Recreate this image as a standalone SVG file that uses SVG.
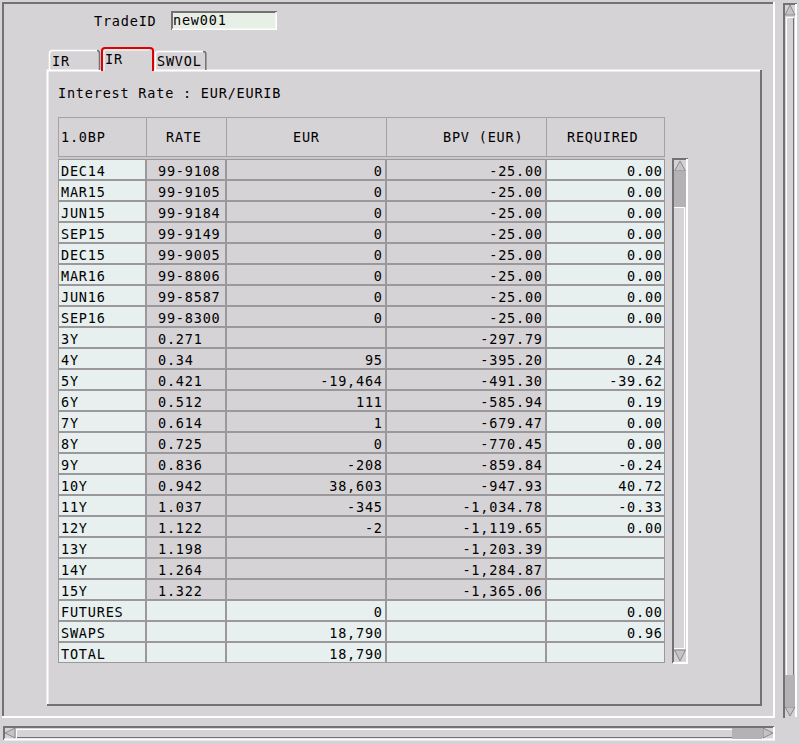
<svg xmlns="http://www.w3.org/2000/svg" width="800" height="744" viewBox="0 0 800 744">
<style>
.t{font-family:"DejaVu Sans Mono","Liberation Mono",monospace;font-size:13.5px;letter-spacing:0.8px;fill:#000}
.r{text-anchor:end}
.dk{stroke:#737173;fill:none}
.wh{stroke:#ffffff;fill:none}
.lt{fill:#e7efef}
.gy{fill:#d6d3d6}
.arr{fill:#c6c3c6;stroke:#7b797b;stroke-width:0.8}
.thumb{fill:#b5b2b5}
.hd{fill:#d6d3d6;stroke:#a5a2a5;stroke-width:1}
</style>
<rect x="0" y="0" width="800" height="744" fill="#d6d3d6"/>

<g id="outer-frame">
<path class="dk" stroke-width="2" d="M3,717 V3 H774"/>
<path class="wh" stroke-width="2" d="M774,2 V718 M2,717 H775"/>
</g>

<g id="right-scrollbar">
<rect x="783" y="3" width="14" height="715" fill="#d6d3d6"/>
<path class="dk" stroke-width="2" d="M784,718 V4 H797"/>
<path class="wh" stroke-width="2" d="M796,4 V717"/>
<path class="wh" stroke-width="1" d="M786.5,675 V17.5 H794"/>
<path class="dk" stroke-width="1" d="M793.5,18 V675"/>
<polygon class="arr" points="790,5 785,15 795,15"/>
<rect class="thumb" x="785" y="675" width="10" height="31"/>
<polygon class="arr" points="785,707 795,707 790,716"/>
</g>

<g id="bottom-scrollbar">
<rect x="3" y="726" width="771" height="14" fill="#d6d3d6"/>
<path class="dk" stroke-width="2" d="M4,740 V727 H774"/>
<path class="wh" stroke-width="2" d="M4,739.5 H774 V727"/>
<path class="wh" stroke-width="1" d="M16.5,738 V729.5 H732"/>
<path class="dk" stroke-width="1" d="M17,737.5 H732"/>
<polygon class="arr" points="5,733 15,728 15,738"/>
<rect class="thumb" x="732" y="728" width="30" height="11"/>
<polygon class="arr" points="763,728 763,738 773,733"/>
</g>

<g id="tradeid">
<text class="t" x="94" y="26">TradeID</text>
<rect x="171" y="11" width="106" height="19" fill="#e7efe7"/>
<path class="dk" stroke-width="2" d="M172,30 V12 H277"/>
<path class="wh" stroke-width="1.5" d="M172,29.2 H276.2 V12"/>
<text class="t" x="173" y="25">new001</text>
</g>

<g id="panel">
<path class="wh" stroke-width="2" d="M47.5,705 V70.5 H101 M154,70.5 H761"/>
<path class="dk" stroke-width="2" d="M761,70 V705 H47"/>
</g>

<g id="tab-ir-1">
<path class="wh" stroke-width="1.5" d="M49.5,70 V53.5 Q49.5,50.5 52.5,50.5 H97"/>
<path class="dk" stroke-width="1.5" d="M97,50.5 Q99.5,50.5 99.5,53.5 V70"/>
<text class="t" x="52" y="66">IR</text>
</g>
<g id="tab-ir-2">
<path fill="none" stroke="#e00000" stroke-width="2" d="M102,71 V50.5 Q102,48 105,48 H150 Q153,48 153,50.5 V71"/>
<path class="wh" stroke-width="1" d="M104,71 V51 Q104,50 106,50 H149"/>
<text class="t" x="105" y="64">IR</text>
</g>
<g id="tab-swvol">
<path class="wh" stroke-width="1.5" d="M155.5,70 V54 Q155.5,51.5 158.5,51.5 H203"/>
<path class="dk" stroke-width="1.5" d="M203,51.5 Q205.8,51.5 205.8,54 V70"/>
<text class="t" x="157" y="66">SWVOL</text>
</g>

<text id="title" class="t" x="58" y="98">Interest Rate : EUR/EURIB</text>

<g id="table-header">
<rect class="hd" x="58.5" y="117.5" width="88" height="39"/>
<rect class="hd" x="146.5" y="117.5" width="80" height="39"/>
<rect class="hd" x="226.5" y="117.5" width="160" height="39"/>
<rect class="hd" x="386.5" y="117.5" width="160" height="39"/>
<rect class="hd" x="546.5" y="117.5" width="118" height="39"/>
<line x1="58" y1="158" x2="665" y2="158" stroke="#bdbabd" stroke-width="1"/>
<text class="t" x="61" y="142">1.0BP</text>
<text class="t" x="166" y="142">RATE</text>
<text class="t" x="293" y="142">EUR</text>
<text class="t" x="443" y="142">BPV (EUR)</text>
<text class="t" x="567" y="142">REQUIRED</text>
</g>

<g id="table-cells">
<rect x="58" y="159" width="607" height="504" fill="#9a989a"/>
<rect class="lt" x="59" y="160" width="86" height="502"/>
<rect class="gy" x="147" y="160" width="78" height="439"/>
<rect class="gy" x="227" y="160" width="158" height="439"/>
<rect class="gy" x="387" y="160" width="158" height="439"/>
<rect class="lt" x="147" y="601" width="78" height="61"/>
<rect class="lt" x="227" y="601" width="158" height="61"/>
<rect class="lt" x="387" y="601" width="158" height="61"/>
<rect class="lt" x="547" y="160" width="117" height="502"/>
<path stroke="#9a989a" stroke-width="2" fill="none" d="M58,180H665M58,201H665M58,222H665M58,243H665M58,264H665M58,285H665M58,306H665M58,327H665M58,348H665M58,369H665M58,390H665M58,411H665M58,432H665M58,453H665M58,474H665M58,495H665M58,516H665M58,537H665M58,558H665M58,579H665M58,600H665M58,621H665M58,642H665"/>
</g>

<g id="col-label" class="t">
<text x="61" y="176">DEC14</text>
<text x="61" y="197">MAR15</text>
<text x="61" y="218">JUN15</text>
<text x="61" y="239">SEP15</text>
<text x="61" y="260">DEC15</text>
<text x="61" y="281">MAR16</text>
<text x="61" y="302">JUN16</text>
<text x="61" y="323">SEP16</text>
<text x="61" y="344">3Y</text>
<text x="61" y="365">4Y</text>
<text x="61" y="386">5Y</text>
<text x="61" y="407">6Y</text>
<text x="61" y="428">7Y</text>
<text x="61" y="449">8Y</text>
<text x="61" y="470">9Y</text>
<text x="61" y="491">10Y</text>
<text x="61" y="512">11Y</text>
<text x="61" y="533">12Y</text>
<text x="61" y="554">13Y</text>
<text x="61" y="575">14Y</text>
<text x="61" y="596">15Y</text>
<text x="61" y="617">FUTURES</text>
<text x="61" y="638">SWAPS</text>
<text x="61" y="659">TOTAL</text>
</g>

<g id="col-rate" class="t">
<text x="158" y="176">99-9108</text>
<text x="158" y="197">99-9105</text>
<text x="158" y="218">99-9184</text>
<text x="158" y="239">99-9149</text>
<text x="158" y="260">99-9005</text>
<text x="158" y="281">99-8806</text>
<text x="158" y="302">99-8587</text>
<text x="158" y="323">99-8300</text>
<text x="158" y="344">0.271</text>
<text x="158" y="365">0.34</text>
<text x="158" y="386">0.421</text>
<text x="158" y="407">0.512</text>
<text x="158" y="428">0.614</text>
<text x="158" y="449">0.725</text>
<text x="158" y="470">0.836</text>
<text x="158" y="491">0.942</text>
<text x="158" y="512">1.037</text>
<text x="158" y="533">1.122</text>
<text x="158" y="554">1.198</text>
<text x="158" y="575">1.264</text>
<text x="158" y="596">1.322</text>
</g>

<g id="col-eur" class="t r">
<text x="382.8" y="176">0</text>
<text x="382.8" y="197">0</text>
<text x="382.8" y="218">0</text>
<text x="382.8" y="239">0</text>
<text x="382.8" y="260">0</text>
<text x="382.8" y="281">0</text>
<text x="382.8" y="302">0</text>
<text x="382.8" y="323">0</text>
<text x="382.8" y="365">95</text>
<text x="382.8" y="386">-19,464</text>
<text x="382.8" y="407">111</text>
<text x="382.8" y="428">1</text>
<text x="382.8" y="449">0</text>
<text x="382.8" y="470">-208</text>
<text x="382.8" y="491">38,603</text>
<text x="382.8" y="512">-345</text>
<text x="382.8" y="533">-2</text>
<text x="382.8" y="617">0</text>
<text x="382.8" y="638">18,790</text>
<text x="382.8" y="659">18,790</text>
</g>

<g id="col-bpv" class="t r">
<text x="542.8" y="176">-25.00</text>
<text x="542.8" y="197">-25.00</text>
<text x="542.8" y="218">-25.00</text>
<text x="542.8" y="239">-25.00</text>
<text x="542.8" y="260">-25.00</text>
<text x="542.8" y="281">-25.00</text>
<text x="542.8" y="302">-25.00</text>
<text x="542.8" y="323">-25.00</text>
<text x="542.8" y="344">-297.79</text>
<text x="542.8" y="365">-395.20</text>
<text x="542.8" y="386">-491.30</text>
<text x="542.8" y="407">-585.94</text>
<text x="542.8" y="428">-679.47</text>
<text x="542.8" y="449">-770.45</text>
<text x="542.8" y="470">-859.84</text>
<text x="542.8" y="491">-947.93</text>
<text x="542.8" y="512">-1,034.78</text>
<text x="542.8" y="533">-1,119.65</text>
<text x="542.8" y="554">-1,203.39</text>
<text x="542.8" y="575">-1,284.87</text>
<text x="542.8" y="596">-1,365.06</text>
</g>

<g id="col-required" class="t r">
<text x="662.8" y="176">0.00</text>
<text x="662.8" y="197">0.00</text>
<text x="662.8" y="218">0.00</text>
<text x="662.8" y="239">0.00</text>
<text x="662.8" y="260">0.00</text>
<text x="662.8" y="281">0.00</text>
<text x="662.8" y="302">0.00</text>
<text x="662.8" y="323">0.00</text>
<text x="662.8" y="365">0.24</text>
<text x="662.8" y="386">-39.62</text>
<text x="662.8" y="407">0.19</text>
<text x="662.8" y="428">0.00</text>
<text x="662.8" y="449">0.00</text>
<text x="662.8" y="470">-0.24</text>
<text x="662.8" y="491">40.72</text>
<text x="662.8" y="512">-0.33</text>
<text x="662.8" y="533">0.00</text>
<text x="662.8" y="617">0.00</text>
<text x="662.8" y="638">0.96</text>
</g>

<g id="table-scrollbar">
<rect x="672" y="158" width="16" height="505" fill="#d6d3d6"/>
<path class="dk" stroke-width="2" d="M673,663 V159 H688"/>
<path class="wh" stroke-width="2" d="M687,159 V663 H673"/>
<polygon class="arr" points="680,161 674.5,171 685.5,171"/>
<rect class="thumb" x="674" y="172" width="12" height="35"/>
<path class="wh" stroke-width="1" d="M674,207.5 H684.5 V648"/>
<path class="wh" stroke-width="1" d="M674,648.5 H685"/>
<polygon class="arr" points="674.5,650 685.5,650 680,661"/>
</g>
</svg>
